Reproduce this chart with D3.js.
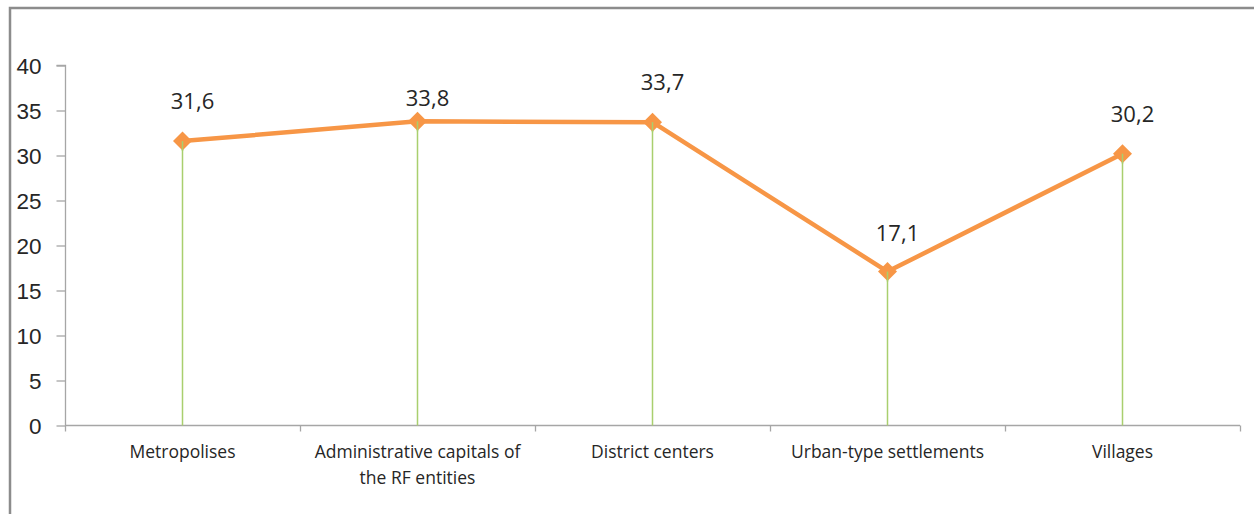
<!DOCTYPE html>
<html><head><meta charset="utf-8">
<script src="https://cdn.jsdelivr.net/npm/d3@7"></script>
<style>body{margin:0;background:#fff;}svg{display:block;font-family:"Open Sans","Liberation Sans",sans-serif;}</style>
</head><body><svg id="c" width="1254" height="514"></svg>
<script>
const categories = ["Metropolises", "Administrative capitals of|the RF entities", "District centers", "Urban-type settlements", "Villages"];
const values = [31.6, 33.8, 33.7, 17.1, 30.2];
const labels = ["31,6", "33,8", "33,7", "17,1", "30,2"];
const yTicks = [0, 5, 10, 15, 20, 25, 30, 35, 40];
const labelLift = [40, 23, 40, 39, 40];

const svg = d3.select("#c");
// outer frame
svg.append("path").attr("d","M10,514 L10,8 L1254,8").attr("fill","none").attr("stroke","#8c8c8c").attr("stroke-width",2.5);

const x = d3.scaleBand().domain(categories).range([65, 1240]);
const y = d3.scaleLinear().domain([0, 40]).range([425.5, 65.5]);

// y axis
const ya = svg.append("g").attr("transform","translate(65.5,0)")
  .call(d3.axisLeft(y).tickValues(yTicks).tickSize(9).tickPadding(15));
ya.selectAll("path,line").attr("stroke","#a6a6a6").attr("stroke-width",1.3);
ya.selectAll("text").attr("font-size",22.5).attr("fill","#262626").attr("dy","0.36em");
ya.select(".domain").attr("d","M-9,65.5H0V425.5");

// x axis
const xa = svg.append("g").attr("transform","translate(0,425.5)");
xa.append("line").attr("x1",65).attr("x2",1240).attr("stroke","#a6a6a6").attr("stroke-width",1.5);
const bounds = categories.map(c => x(c)).concat([x.range()[1]]);
xa.selectAll("line.t").data(bounds).enter().append("line").attr("class","t")
  .attr("x1",d=>d+0.5).attr("x2",d=>d+0.5).attr("y1",0).attr("y2",6).attr("stroke","#a6a6a6").attr("stroke-width",1.3);
xa.selectAll("text.c").data(categories).enter().append("text").attr("class","c")
  .attr("text-anchor","middle").attr("font-size",17.5).attr("fill","#262626")
  .attr("x", d => x(d) + x.bandwidth()/2)
  .each(function(d){
    const parts = d.split("|");
    d3.select(this).selectAll("tspan").data(parts).enter().append("tspan")
      .attr("x", x(d)+x.bandwidth()/2).attr("y",(p,i)=>32+i*26).text(p=>p);
  });

const cx = i => x(categories[i]) + x.bandwidth()/2;

// drop lines
svg.selectAll("line.drop").data(values).enter().append("line").attr("class","drop")
  .attr("x1",(d,i)=>cx(i)).attr("x2",(d,i)=>cx(i)).attr("y1",d=>y(d)).attr("y2",y(0))
  .attr("stroke","#a9cf6e").attr("stroke-width",1.5);

// line
svg.append("path").datum(values)
  .attr("d", d3.line().x((d,i)=>cx(i)).y(d=>y(d)))
  .attr("fill","none").attr("stroke","#f79646").attr("stroke-width",4.5).attr("stroke-linejoin","round");

// markers
svg.selectAll("path.m").data(values).enter().append("path").attr("class","m")
  .attr("d", d3.symbol().type(d3.symbolDiamond2).size(230))
  .attr("transform",(d,i)=>`translate(${cx(i)},${y(d)})`)
  .attr("fill","#f79646");
svg.selectAll("line.drop2").data(values).enter().append("line")
  .attr("x1",(d,i)=>cx(i)).attr("x2",(d,i)=>cx(i)).attr("y1",d=>y(d)).attr("y2",d=>y(d)+10)
  .attr("stroke","#a9cf6e").attr("stroke-width",1.5);

// labels
svg.selectAll("text.v").data(values).enter().append("text").attr("class","v")
  .attr("x",(d,i)=>cx(i)+10).attr("y",(d,i)=>y(d)-labelLift[i]).attr("dy","0.36em")
  .attr("text-anchor","middle").attr("font-size",22).attr("fill","#262626")
  .text((d,i)=>labels[i]);
</script></body></html>
